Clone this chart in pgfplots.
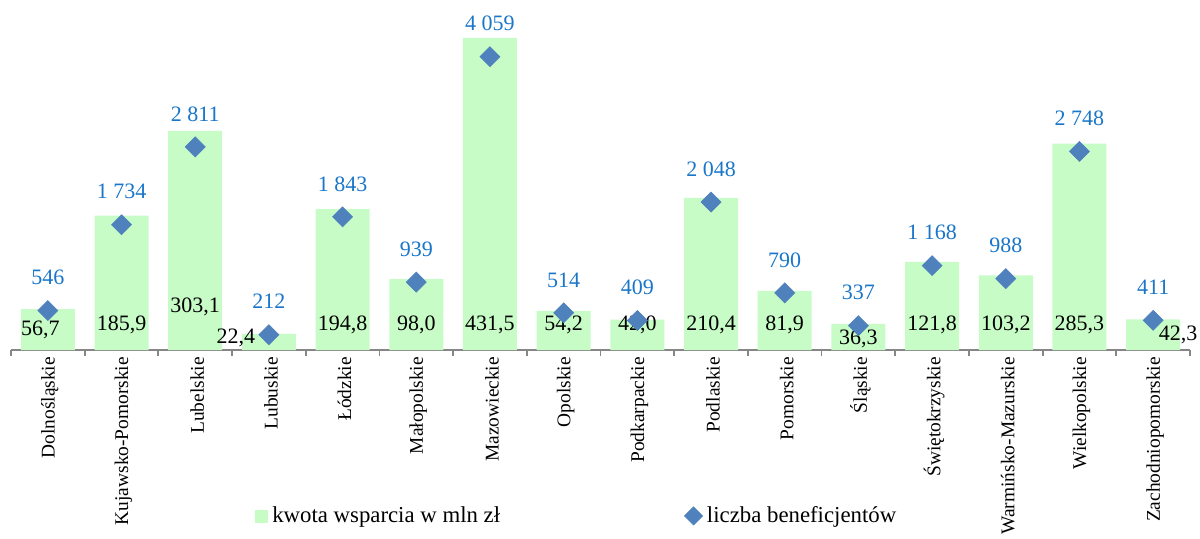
\documentclass[border=0pt]{standalone}
\usepackage{pgfplots}
\pgfplotsset{compat=1.18}
\usepackage{fontspec}
\setmainfont{Liberation Serif}

\definecolor{barGreen}{RGB}{199,252,199}
\definecolor{diaBlue}{RGB}{79,129,189}
\definecolor{lblBlue}{RGB}{25,118,200}
\definecolor{axGray}{RGB}{134,134,134}

% kwota wsparcia (mln zl); lx/ly = where the value label sits
\pgfplotstableread{
x  kw     lx     ly
1  56.7   0.90   27.7
2  185.9  2      34.6
3  303.1  3      59.5
4  22.4   3.55   16.6
5  194.8  5      34.6
6  98.0   6      34.6
7  431.5  7      34.6
8  54.2   8      35.3
9  42.0   9      34.6
10 210.4  10     34.6
11 81.9   11     34.6
12 36.3   12     15.2
13 121.8  13     34.6
14 103.2  14     34.6
15 285.3  15     34.6
16 42.3   16.34  20.8
}\kwota

% liczba beneficjentow
\pgfplotstableread{
x  lb
1  546
2  1734
3  2811
4  212
5  1843
6  939
7  4059
8  514
9  409
10 2048
11 790
12 337
13 1168
14 988
15 2748
16 411
}\benef

\begin{document}
\begin{tikzpicture}
\pgfplotsset{every axis/.append style={
    scale only axis, width=589.5pt, height=175pt,
    xmin=0.5, xmax=16.5, clip=false}}

\begin{axis}[
    ymin=0, ymax=484,
    axis x line=bottom, axis y line=none,
    x axis line style={-, axGray, line width=0.9pt},
    xtick={1,...,16},
    xticklabels={Dolnośląskie,Kujawsko-Pomorskie,Lubelskie,Lubuskie,Łódzkie,Małopolskie,Mazowieckie,Opolskie,Podkarpackie,Podlaskie,Pomorskie,Śląskie,Świętokrzyskie,Warmińsko-Mazurskie,Wielkopolskie,Zachodniopomorskie},
    minor xtick={0.5,1.5,...,16.5},
    tick align=outside, major tick length=0pt, minor tick length=3pt,
    minor tick style={axGray, line width=0.9pt},
    xticklabel style={rotate=90, anchor=east, font=\fontsize{9.7}{11}\selectfont, yshift=-1pt},
]
\addplot[ybar, bar width=27pt, fill=barGreen, draw=none] table[x=x, y=kw] {\kwota};
\addplot[draw=none, nodes near coords, point meta=explicit,
    every node near coord/.append style={anchor=center, font=\fontsize{11}{13}\selectfont, text=black},
    /pgf/number format/.cd, fixed, fixed zerofill, precision=1, use comma, assume math mode=true]
    table[x=lx, y=ly, meta=kw] {\kwota};
\end{axis}

\begin{axis}[
    ymin=0, ymax=4844, hide axis,
    legend columns=2,
    legend style={at={(axis description cs:0.207,-0.474)}, anchor=west,
        draw=none, fill=none, inner sep=0pt,
        font=\fontsize{11.4}{13}\selectfont,
        /tikz/every even column/.append style={column sep=90pt}},
]
\addlegendimage{legend image code/.code={\fill[barGreen] (0pt,-3pt) rectangle (6pt,3pt);}}
\addlegendentry{kwota wsparcia w mln zł}
\addplot[only marks, mark=square*, mark size=3.5pt,
    mark options={rotate=45, fill=diaBlue, draw=diaBlue},
    legend image code/.code={\fill[diaBlue] (0pt,4.5pt) -- (4.5pt,0pt) -- (0pt,-4.5pt) -- (-4.5pt,0pt) -- cycle;},
    nodes near coords,
    every node near coord/.append style={anchor=center, yshift=16.5pt, font=\fontsize{11}{13}\selectfont, text=lblBlue},
    /pgf/number format/.cd, fixed, precision=0, 1000 sep={\ }, assume math mode=true]
    table[x=x, y=lb] {\benef};
\addlegendentry{liczba beneficjentów}
\end{axis}

\pgfresetboundingbox
\useasboundingbox (-5.5pt,-94pt) rectangle (594.5pt,175pt);
\end{tikzpicture}
\end{document}
